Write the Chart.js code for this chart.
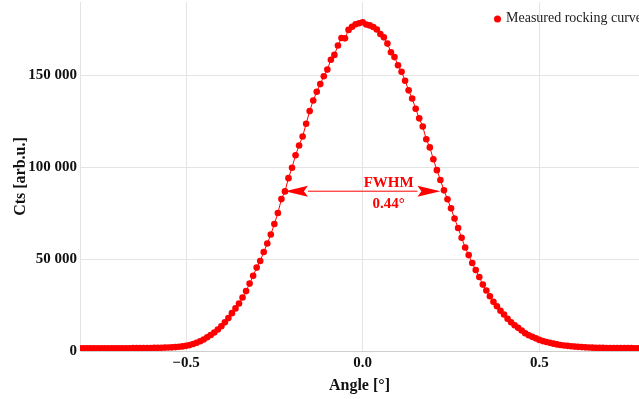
<!DOCTYPE html>
<html>
<head>
<meta charset="utf-8">
<script src="https://cdn.jsdelivr.net/npm/chart.js@4/dist/chart.umd.min.js"></script>
<style>
  html, body { margin: 0; padding: 0; background: #fff; }
  #wrap { width: 639px; height: 399px; }
</style>
</head>
<body>
<div id="wrap"><canvas id="rockingChart" width="639" height="399"></canvas></div>
<script>
// omega scan, step 0.01 deg
const angles = [
  -0.82, -0.81, -0.80, -0.79, -0.78, -0.77, -0.76, -0.75, -0.74, -0.73,
  -0.72, -0.71, -0.70, -0.69, -0.68, -0.67, -0.66, -0.65, -0.64, -0.63,
  -0.62, -0.61, -0.60, -0.59, -0.58, -0.57, -0.56, -0.55, -0.54, -0.53,
  -0.52, -0.51, -0.50, -0.49, -0.48, -0.47, -0.46, -0.45, -0.44, -0.43,
  -0.42, -0.41, -0.40, -0.39, -0.38, -0.37, -0.36, -0.35, -0.34, -0.33,
  -0.32, -0.31, -0.30, -0.29, -0.28, -0.27, -0.26, -0.25, -0.24, -0.23,
  -0.22, -0.21, -0.20, -0.19, -0.18, -0.17, -0.16, -0.15, -0.14, -0.13,
  -0.12, -0.11, -0.10, -0.09, -0.08, -0.07, -0.06, -0.05, -0.04, -0.03,
  -0.02, -0.01, 0.00, 0.01, 0.02, 0.03, 0.04, 0.05, 0.06, 0.07,
  0.08, 0.09, 0.10, 0.11, 0.12, 0.13, 0.14, 0.15, 0.16, 0.17,
  0.18, 0.19, 0.20, 0.21, 0.22, 0.23, 0.24, 0.25, 0.26, 0.27,
  0.28, 0.29, 0.30, 0.31, 0.32, 0.33, 0.34, 0.35, 0.36, 0.37,
  0.38, 0.39, 0.40, 0.41, 0.42, 0.43, 0.44, 0.45, 0.46, 0.47,
  0.48, 0.49, 0.50, 0.51, 0.52, 0.53, 0.54, 0.55, 0.56, 0.57,
  0.58, 0.59, 0.60, 0.61, 0.62, 0.63, 0.64, 0.65, 0.66, 0.67,
  0.68, 0.69, 0.70, 0.71, 0.72, 0.73, 0.74, 0.75, 0.76, 0.77,
  0.78, 0.79, 0.80
];
const counts = [
  1460, 1450, 1450, 1460, 1440, 1470, 1450, 1480, 1460, 1490,
  1470, 1500, 1490, 1510, 1500, 1530, 1520, 1550, 1560, 1580,
  1600, 1620, 1650, 1690, 1730, 1780, 1840, 1910, 2000, 2120,
  2280, 2500, 2800, 3200, 3800, 4500, 5300, 6300, 7500, 8700,
  10100, 11700, 13500, 15600, 17900, 20600, 23200, 25900, 29100, 32600,
  36700, 40900, 45400, 49000, 53900, 58500, 63400, 69100, 75100, 82700,
  86900, 94100, 99800, 106600, 111900, 116800, 123700, 130600, 136400, 141100,
  145300, 149600, 153200, 158600, 161200, 166300, 170400, 170200, 174800, 176500,
  177900, 178400, 179000, 177750, 177250, 176400, 175050, 172550, 170750, 167350,
  162650, 160000, 155600, 152000, 147150, 141900, 137450, 131850, 126650, 122200,
  115250, 110850, 104400, 98450, 93100, 87450, 82600, 77650, 72150, 67000,
  61650, 56350, 52200, 47900, 44050, 40250, 36150, 32900, 29800, 26750,
  24350, 21950, 19900, 17550, 15650, 14050, 12600, 11200, 9700, 8550,
  7700, 6900, 6050, 5400, 4900, 4450, 4000, 3600, 3300, 3000,
  2800, 2600, 2400, 2250, 2120, 2000, 1900, 1830, 1770, 1720,
  1680, 1650, 1620, 1600, 1580, 1570, 1560, 1550, 1540, 1530,
  1520, 1520, 1510
];
const xTicks = [-0.5, 0, 0.5];
const yTicks = [0, 50000, 100000, 150000];

// FWHM marker: half maximum level and the two crossing angles
const halfMax = 87000;
const fwhmLeft = -0.22;
const fwhmRight = 0.22;

const red = '#ff0000';
const serif = "'Liberation Serif', 'Times New Roman', serif";

const fmtThousands = v => String(v).replace(/\B(?=(\d{3})+(?!\d))/g, ' ');
const fmtAngle = v => (v < 0 ? '\u2212' + Math.abs(v).toFixed(1) : v.toFixed(1));

// double arrow + label between the half-maximum points
const fwhmPlugin = {
  id: 'fwhm',
  afterDatasetsDraw(chart) {
    const {ctx, scales: {x, y}} = chart;
    const x1 = x.getPixelForValue(fwhmLeft);
    const x2 = x.getPixelForValue(fwhmRight);
    const yy = y.getPixelForValue(halfMax);
    const headLen = 23, headHalf = 5.5;
    ctx.save();
    ctx.strokeStyle = red;
    ctx.fillStyle = red;
    ctx.lineWidth = 1;
    ctx.beginPath();
    ctx.moveTo(x1 + headLen, yy);
    ctx.lineTo(x2 - headLen, yy);
    ctx.stroke();
    ctx.beginPath();
    ctx.moveTo(x1, yy);
    ctx.lineTo(x1 + headLen, yy - headHalf);
    ctx.lineTo(x1 + headLen - 4, yy);
    ctx.lineTo(x1 + headLen, yy + headHalf);
    ctx.closePath();
    ctx.fill();
    ctx.beginPath();
    ctx.moveTo(x2, yy);
    ctx.lineTo(x2 - headLen, yy - headHalf);
    ctx.lineTo(x2 - headLen + 4, yy);
    ctx.lineTo(x2 - headLen, yy + headHalf);
    ctx.closePath();
    ctx.fill();
    ctx.font = 'bold 15px ' + serif;
    ctx.textAlign = 'center';
    ctx.textBaseline = 'alphabetic';
    const tx = x.getPixelForValue(0) + 26;
    ctx.fillText('FWHM', tx, yy - 4);
    ctx.fillText((fwhmRight - fwhmLeft).toFixed(2) + '\u00b0', tx, yy + 17);
    ctx.restore();
  }
};

// legend in the top right corner, running off the canvas edge
const cornerLegend = {
  id: 'cornerLegend',
  afterDraw(chart) {
    const {ctx} = chart;
    const ds = chart.data.datasets[0];
    ctx.save();
    ctx.fillStyle = red;
    ctx.beginPath();
    ctx.arc(497.5, 19, 3.5, 0, Math.PI * 2);
    ctx.fill();
    ctx.fillStyle = '#222';
    ctx.font = '14px ' + serif;
    ctx.textBaseline = 'middle';
    ctx.textAlign = 'left';
    ctx.fillText(ds.label, 506, 18.5);
    ctx.restore();
  }
};

new Chart('rockingChart', {
  type: 'line',
  data: {
    labels: angles,
    datasets: [{
      label: 'Measured rocking curve',
      data: angles.map((a, i) => ({x: a, y: counts[i]})),
      borderColor: red,
      borderWidth: 1,
      backgroundColor: red,
      pointBackgroundColor: red,
      pointBorderWidth: 0,
      pointRadius: 3.3,
      tension: 0,
      clip: 0
    }]
  },
  options: {
    responsive: false,
    animation: false,
    devicePixelRatio: 1,
    layout: {autoPadding: false, padding: {top: 2, right: 0, left: 0, bottom: 0}},
    plugins: {
      legend: {display: false},
      tooltip: {enabled: false}
    },
    scales: {
      x: {
        type: 'linear',
        min: -0.80,
        max: 0.782,
        afterBuildTicks: scale => { scale.ticks = xTicks.map(v => ({value: v})); },
        afterFit: scale => {
          scale.height = 48;
          scale.paddingLeft = 0;
          scale.paddingRight = 0;
        },
        grid: {color: '#e4e4e4', drawTicks: false},
        border: {color: '#cfcfcf'},
        ticks: {
          padding: 3,
          color: '#111',
          font: {family: serif, size: 15, weight: 'bold'},
          callback: v => fmtAngle(v)
        },
        title: {
          display: true,
          text: 'Angle [\u00b0]',
          color: '#111',
          font: {family: serif, size: 16, weight: 'bold'},
          padding: {top: 0, bottom: 4}
        }
      },
      y: {
        min: 0,
        max: 190000,
        afterBuildTicks: scale => { scale.ticks = yTicks.map(v => ({value: v})); },
        afterFit: scale => {
          scale.width = 80;
          scale.paddingTop = 0;
          scale.paddingBottom = 0;
        },
        grid: {color: '#e4e4e4', drawTicks: false},
        border: {color: '#e4e4e4'},
        ticks: {
          padding: 3,
          color: '#111',
          font: {family: serif, size: 15, weight: 'bold'},
          callback: v => fmtThousands(v)
        },
        title: {
          display: true,
          text: 'Cts [arb.u.]',
          color: '#111',
          font: {family: serif, size: 16, weight: 'bold'},
          padding: {top: 11, bottom: 0}
        }
      }
    }
  },
  plugins: [fwhmPlugin, cornerLegend]
});
</script>
</body>
</html>
